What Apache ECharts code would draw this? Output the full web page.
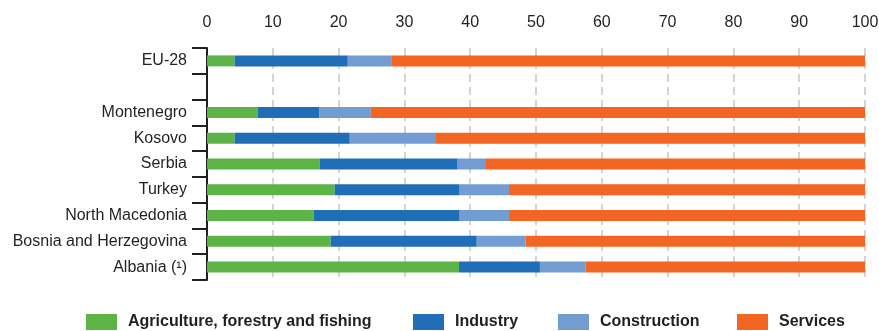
<!DOCTYPE html>
<html>
<head>
<meta charset="utf-8">
<script src="https://cdn.jsdelivr.net/npm/echarts@6/dist/echarts.min.js"></script>
<style>
  html, body { margin: 0; padding: 0; background: #ffffff; }
  #chart { width: 879px; height: 331px; }
</style>
</head>
<body>
<div id="chart"></div>
<script>
// Economic structure by branch, share of total (%)
const categories = ['EU-28', '', 'Montenegro', 'Kosovo', 'Serbia', 'Turkey', 'North Macedonia', 'Bosnia and Herzegovina', 'Albania (¹)'];
const agriculture  = [4.2, null, 7.7, 4.2, 17.1, 19.4, 16.2, 18.8, 38.3];
const industry     = [17.2, null, 9.4, 17.5, 21.0, 19.0, 22.2, 22.2, 12.3];
const construction = [6.7, null, 7.8, 13.1, 4.3, 7.5, 7.5, 7.4, 6.9];
const services     = [71.9, null, 75.1, 65.2, 57.6, 54.1, 54.1, 51.6, 42.5];
const xTicks = [0, 10, 20, 30, 40, 50, 60, 70, 80, 90, 100];

const seriesNames = ['Agriculture, forestry and fishing', 'Industry', 'Construction', 'Services'];
const seriesData = [agriculture, industry, construction, services];
const colors = ['#5cb346', '#1f6eb7', '#729cd2', '#f26522'];
const legendLeft = [86, 413, 558, 737];

const textColor = '#231f20';
const font = 'Liberation Sans, Arial, sans-serif';

const chart = echarts.init(document.getElementById('chart'), null, { renderer: 'canvas' });

chart.setOption({
  backgroundColor: '#ffffff',
  animation: false,
  color: colors,
  grid: { left: 207, right: 14, top: 48, bottom: 51, containLabel: false, outerBoundsMode: 'none' },
  xAxis: {
    type: 'value',
    position: 'top',
    min: xTicks[0],
    max: xTicks[xTicks.length - 1],
    interval: xTicks[1] - xTicks[0],
    axisLine: { show: false },
    axisTick: { show: false },
    axisLabel: { color: textColor, fontSize: 16, fontFamily: font, margin: 17 },
    splitLine: { show: true, lineStyle: { color: '#c6c6c6', width: 1.5, type: [8, 5] } }
  },
  yAxis: {
    type: 'category',
    inverse: true,
    data: categories,
    axisLine: { show: true, lineStyle: { color: textColor, width: 2 } },
    axisTick: { show: true, length: 15, interval: 0, lineStyle: { color: textColor, width: 2 } },
    axisLabel: { color: textColor, fontSize: 16, fontFamily: font, margin: 20, interval: 0 },
    splitLine: { show: false }
  },
  legend: seriesNames.map((name, i) => ({
    data: [name],
    left: legendLeft[i],
    top: 314,
    padding: 0,
    icon: 'rect',
    itemWidth: 31,
    itemHeight: 16,
    selectedMode: false,
    textStyle: {
      color: textColor,
      fontSize: 16,
      fontWeight: 'bold',
      fontFamily: font,
      padding: [0, 0, 0, 6]
    }
  })),
  series: seriesNames.map((name, i) => ({
    name: name,
    type: 'bar',
    stack: 'total',
    barWidth: 11,
    data: seriesData[i],
    itemStyle: { color: colors[i] },
    emphasis: { disabled: true }
  }))
});
</script>
</body>
</html>
